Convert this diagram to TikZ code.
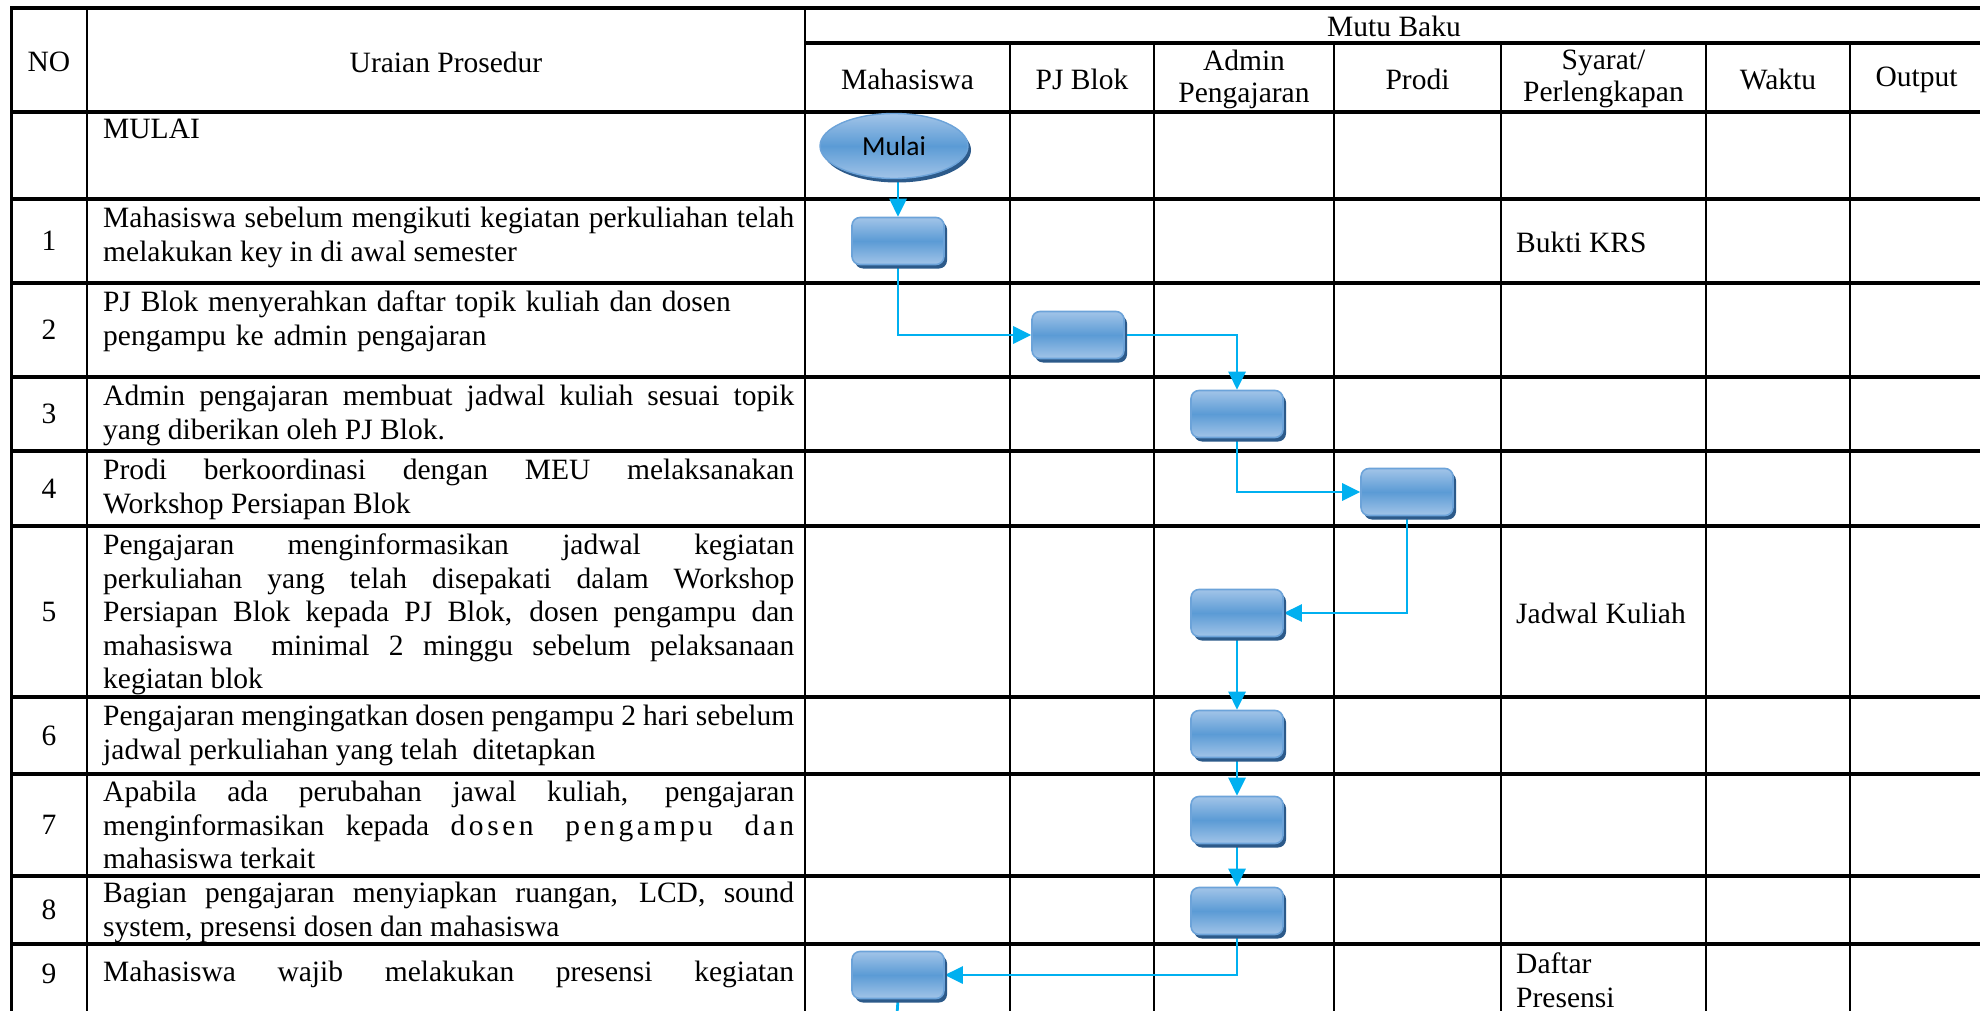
\documentclass[tikz,border=0pt]{standalone}
\usepackage{fontspec}
\setmainfont{Liberation Serif}
\newfontfamily\calibrifont{Carlito}
\usetikzlibrary{shapes.geometric,arrows.meta,shadows,backgrounds}
\definecolor{boxlight}{HTML}{A2C4E8}
\definecolor{boxmid}{HTML}{5B9BD5}
\definecolor{boxedge}{HTML}{6CA3D9}
\definecolor{boxshadow}{HTML}{2C5A8A}
\definecolor{flow}{HTML}{00B0F0}
\begin{document}
\begin{tikzpicture}[x=1pt,y=-1pt,
  hline/.style={line width=3.2pt},
  vline/.style={line width=2.2pt},
  txt/.style={font=\fontsize{29.5}{33.5}\selectfont, inner sep=0pt},
  para/.style={txt, anchor=north west, text width=691pt, align=justify},
  parl/.style={txt, anchor=north west, text width=691pt, align=left},
  hdr/.style={txt, align=center, font=\fontsize{29.5}{32}\selectfont},
  proc/.style={rectangle, rounded corners=8pt, minimum width=92pt, minimum height=47pt,
    draw=boxedge, line width=1.6pt, top color=boxlight, bottom color=boxlight,
    middle color=boxmid, inner sep=0pt,
    drop shadow={shadow xshift=3pt, shadow yshift=-4pt, fill=boxshadow, opacity=1}},
  term/.style={ellipse, minimum width=148pt, minimum height=65pt, inner sep=0pt,
    draw=boxedge, line width=1.4pt, top color=boxlight, bottom color=boxlight,
    middle color=boxmid, font=\calibrifont\fontsize{27.5}{30}\selectfont,
    drop shadow={shadow xshift=3pt, shadow yshift=-4pt, fill=boxshadow, opacity=1}},
  flowline/.style={draw=flow, line width=2.8pt, -{Triangle[length=18pt,width=17pt]}},
  flowplain/.style={draw=flow, line width=2.8pt},
]
\useasboundingbox (0,0) rectangle (1980,1011);
\clip (0,0) rectangle (1980,1011);

% ---------- shapes ----------
\node[term] (mulai) at (894,146) {Mulai};
\node[proc] (b1) at (898,241) {};
\node[proc] (b2) at (1078,335) {};
\node[proc] (b3) at (1237,414) {};
\node[proc] (b4) at (1407,492) {};
\node[proc] (b5) at (1237,613) {};
\node[proc] (b6) at (1237,734) {};
\node[proc] (b7) at (1237,820) {};
\node[proc] (b8) at (1237,911) {};
\node[proc] (b9) at (898,975) {};
\coordinate (endpt) at (896,1030);

% ---------- table grid and connectors (behind) ----------
\begin{scope}[on background layer]
  \clip (0,0) rectangle (1980,1011);
  \fill[white] (0,0) rectangle (1980,1011);
  \foreach \yy in {8,112,199,283,377,451,526,697,774,876,944}
    \draw[hline] (11,\yy) -- (1983,\yy);
  \draw[hline] (805,43) -- (1983,43);
  \draw[line width=3pt] (11,6.5) -- (11,1030);
  \foreach \xx in {87,805,1983}
    \draw[vline] (\xx,8) -- (\xx,1030);
  \foreach \xx in {1010,1154,1334,1501,1706,1850}
    \draw[vline] (\xx,43) -- (\xx,1030);
  % connectors
  \draw[flowline] (mulai.south -| b1.north) -- (b1.north);
  \draw[flowline] (b1.south) |- (b2.west);
  \draw[flowline] (b2.east) -| (b3.north);
  \draw[flowline] (b3.south) |- (b4.west);
  \draw[flowline] (b4.south) |- (b5.east);
  \draw[flowline] (b5.south) -- (b6.north);
  \draw[flowline] (b6.south) -- (b7.north);
  \draw[flowline] (b7.south) -- (b8.north);
  \draw[flowline] (b8.south) |- (b9.east);
  \draw[flowplain] (b9.south) -- (endpt);
\end{scope}

% ---------- header ----------
\node[hdr] (hNO) at (49,62) {NO};
\node[hdr] (hUraian) at (446,62) {Uraian Prosedur};
\node[hdr] (hMutu) at (1394,26) {Mutu Baku};
\node[hdr] (hMhs) at (907.5,79) {Mahasiswa};
\node[hdr] (hPJ) at (1082,79) {PJ Blok};
\node[hdr] (hAdm) at (1244,79) {Admin\\Pengajaran};
\node[hdr] (hProdi) at (1417.5,79) {Prodi};
\node[hdr] (hSyarat) at (1603.5,79) {Syarat/\\Perlengkapan};
\node[hdr] (hWaktu) at (1778,79) {Waktu};
\node[hdr] (hOutput) at (1916.5,80) {Output};

% ---------- numbers ----------
\node[txt] (n1) at (49,241) {1};
\node[txt] (n2) at (49,330) {2};
\node[txt] (n3) at (49,414) {3};
\node[txt] (n4) at (49,488.5) {4};
\node[txt] (n5) at (49,611.5) {5};
\node[txt] (n6) at (49,736) {6};
\node[txt] (n7) at (49,825) {7};
\node[txt] (n8) at (49,910) {8};
\node[txt] (n9) at (49,974) {9};

% ---------- procedure texts ----------
\node[parl] (t0) at (103,115) {\strut MULAI};
\node[para] (t1) at (103,204) {\strut Mahasiswa sebelum mengikuti kegiatan perkuliahan telah\linebreak melakukan key in di awal semester};
\node[parl] (t2) at (103,288) {\strut PJ Blok menyerahkan daftar topik kuliah dan dosen\\pengampu ke admin pengajaran};
\node[para] (t3) at (103,382) {\strut Admin pengajaran membuat jadwal kuliah sesuai topik\linebreak yang diberikan oleh PJ Blok.};
\node[para] (t4) at (103,456) {\strut Prodi berkoordinasi dengan MEU melaksanakan\linebreak Workshop Persiapan Blok};
\node[para] (t5) at (103,531) {\strut Pengajaran menginformasikan jadwal kegiatan\linebreak perkuliahan yang telah disepakati dalam Workshop\linebreak Persiapan Blok kepada PJ Blok, dosen pengampu dan\linebreak mahasiswa\ \ minimal 2 minggu sebelum pelaksanaan\linebreak kegiatan blok};
\node[para] (t6) at (103,702) {\strut Pengajaran mengingatkan dosen pengampu 2 hari sebelum\linebreak jadwal perkuliahan yang telah\ \ ditetapkan};
\node[para] (t7) at (103,778) {\strut Apabila ada perubahan jawal kuliah, pengajaran\linebreak menginformasikan kepada {\addfontfeature{LetterSpace=12}dosen pengampu dan}\linebreak mahasiswa terkait};
\node[para] (t8) at (103,879) {\strut Bagian pengajaran menyiapkan ruangan, LCD, sound\linebreak system, presensi dosen dan mahasiswa};
\node[parl] (t9) at (103,958) {\strut\hbox to 691pt{Mahasiswa\hfill wajib\hfill melakukan\hfill presensi\hfill kegiatan}};

% ---------- requirement texts ----------
\node[txt, anchor=west] (s1) at (1516,242) {Bukti KRS};
\node[txt, anchor=west] (s5) at (1516,613) {Jadwal Kuliah};
\node[txt, anchor=north west, align=left] (s9) at (1516,950) {\strut Daftar\\Presensi};
\end{tikzpicture}
\end{document}
